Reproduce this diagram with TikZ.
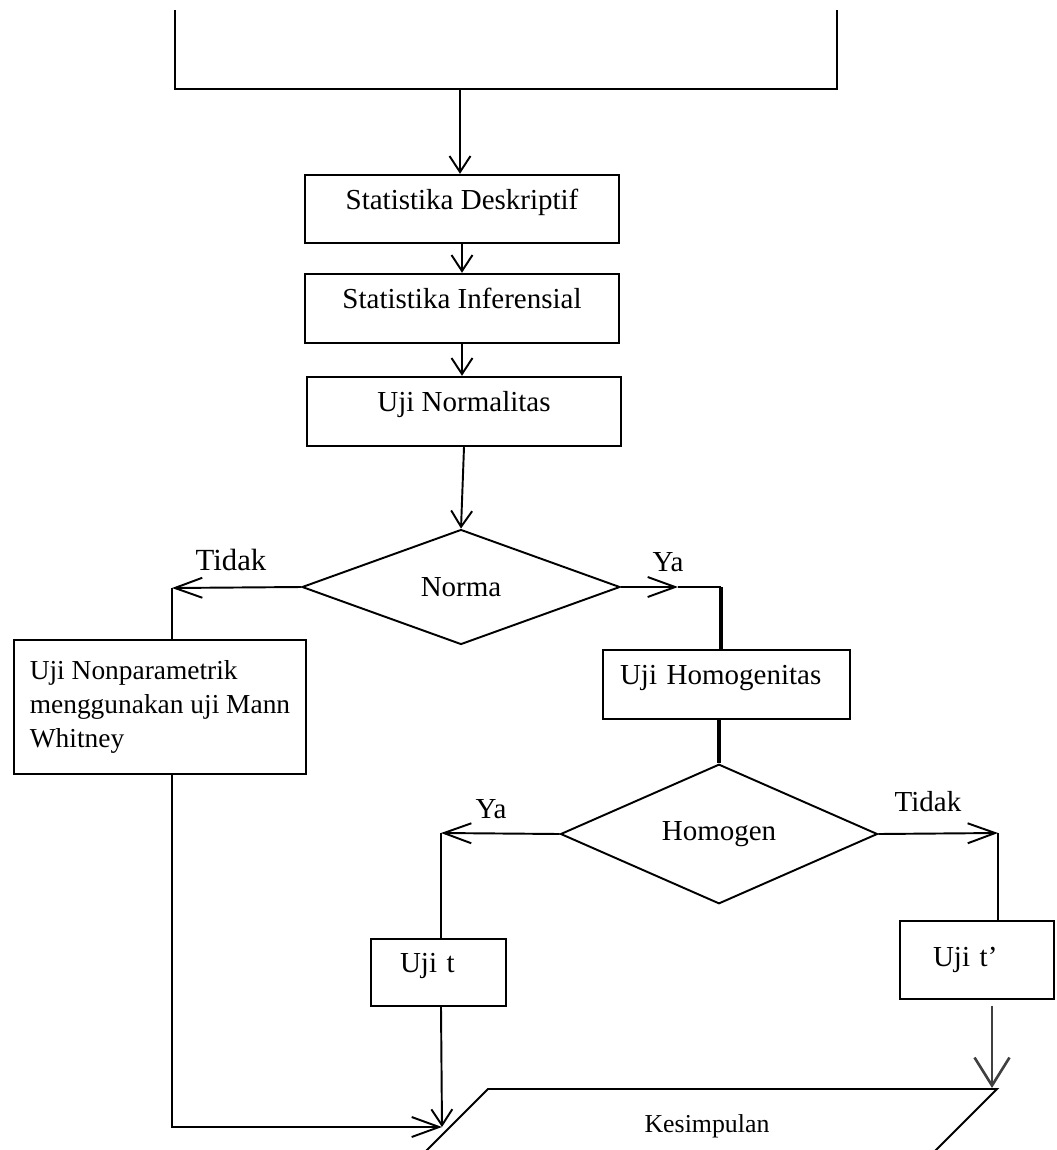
\documentclass[tikz,border=0pt]{standalone}
\usepackage{fontspec}
\setmainfont{Liberation Serif}
\usetikzlibrary{shapes.geometric,arrows.meta}

\tikzset{
  box/.style={draw, line width=1.4pt, inner sep=0pt},
  upper/.style={text height=12pt, text depth=12pt},
  dec/.style={draw, diamond, line width=1.1pt, inner sep=0pt},
  line/.style={line width=1.1pt},
  thickline/.style={line width=1.8pt},
  arr/.style={line width=1.1pt, -{Straight Barb[length=0.32cm,width=0.42cm]}},
  harr/.style={line width=1.1pt, -{Straight Barb[length=0.55cm,width=0.4cm]}},
  bigarr/.style={line width=1.5pt, draw=black!75, -{Straight Barb[length=0.56cm,width=0.7cm]}},
  lbl/.style={font=\fontsize{16.5}{19}\selectfont}
}

\begin{document}
\begin{tikzpicture}[x=0.02cm, y=-0.02cm, font=\fontsize{16.5}{19}\selectfont]
    \useasboundingbox (0,0) rectangle (1056,1150);

    % Open box at top
    \coordinate (topL) at (175,10);
    \coordinate (topR) at (837,10);
    \coordinate (topM) at (460,89);
    \draw[line] (topL) -- (topL |- topM) -- (topR |- topM) -- (topR);

    % Statistika Deskriptif
    \node[box, upper, minimum width=6.28cm, minimum height=1.36cm] (desk) at (462,209) {Statistika Deskriptif};

    % Statistika Inferensial
    \node[box, upper, minimum width=6.28cm, minimum height=1.38cm] (infer) at (462,308.5) {Statistika Inferensial};

    % Uji Normalitas
    \node[box, upper, minimum width=6.28cm, minimum height=1.38cm] (norm) at (464,411.5) {Uji Normalitas};

    % Norma
    \node[dec, minimum width=6.36cm, minimum height=2.3cm] (norma) at (461,587) {Norma};

    % Uji Nonparametrik
    \node[box, minimum width=5.84cm, minimum height=2.68cm, align=left, font=\fontsize{15.6}{19.3}\selectfont] (nonpar) at (160,707) {Uji Nonparametrik\\menggunakan uji Mann\\Whitney};

    % Uji Homogenitas
    \node[box, upper, minimum height=1.38cm, text width=4.26cm, inner xsep=0.34cm, align=left] (homog) at (726.5,684.5) {Uji Homogenitas};

    % Homogen
    \node[dec, minimum width=6.34cm, minimum height=2.34cm] (homogen) at (719,834) {Homogen};

    % Uji t
    \node[box, upper, minimum height=1.34cm, text width=1.54cm, inner xsep=0.58cm, align=left] (ujit) at (438.5,972.5) {Uji t};

    % Uji t'
    \node[box, minimum height=1.56cm, text width=1.76cm, inner xsep=0.66cm, align=left] (ujitp) at (977,960) {Uji t’};

    % Kesimpulan
    \coordinate (kTL) at (488,1089);
    \coordinate (kTR) at (997,1089);
    \draw[line] (425,1152) -- (kTL) -- (kTR) -- (934,1152);
    \node[font=\fontsize{14.7}{17}\selectfont] (kesimpulan) at (707,1126) {Kesimpulan};

    % Arrows
    \draw[arr] (topM) -- (topM |- desk.north);
    \draw[arr] (desk.south) -- (infer.north);
    \draw[arr] (infer.south) -- (infer.south |- norm.north);
    \draw[arr] (norm.south) -- (norma.north);

    \coordinate (nL) at (172,588);
    \draw[harr] (norma.west) -- (nL);
    \draw[line] (nL) -- (nL |- nonpar.north);

    \coordinate (yaR) at (678,587);
    \coordinate (yaC) at (721,587);
    \draw[harr] (norma.east) -- (yaR);
    \draw[line] (yaR) -- (yaC);
    \draw[thickline] (yaC) -- (yaC |- homog.north);
    \draw[thickline] (homogen.north |- homog.south) -- (homogen.north);

    \coordinate (hL) at (441,833);
    \coordinate (hR) at (998,833);
    \draw[harr] (homogen.west) -- (hL);
    \draw[line] (hL) -- (hL |- ujit.north);
    \draw[harr] (homogen.east) -- (hR);
    \draw[line] (hR) -- (hR |- ujitp.north);

    \coordinate (kin) at (442,1127);
    \coordinate (kRin) at (992,1088);
    \draw[arr] (hL |- ujit.south) -- (kin);
    \draw[harr] (nL |- nonpar.south) |- (kin);
    \draw[bigarr, shorten <=3pt] (kRin |- ujitp.south) -- (kRin);

    % Labels
    \node[lbl, font=\fontsize{17.5}{20}\selectfont] (tidak1) at (231,560) {Tidak};
    \node[lbl] (ya1) at (668,562) {Ya};
    \node[lbl] (ya2) at (491,809) {Ya};
    \node[lbl] (tidak2) at (928,802) {Tidak};
\end{tikzpicture}
\end{document}
